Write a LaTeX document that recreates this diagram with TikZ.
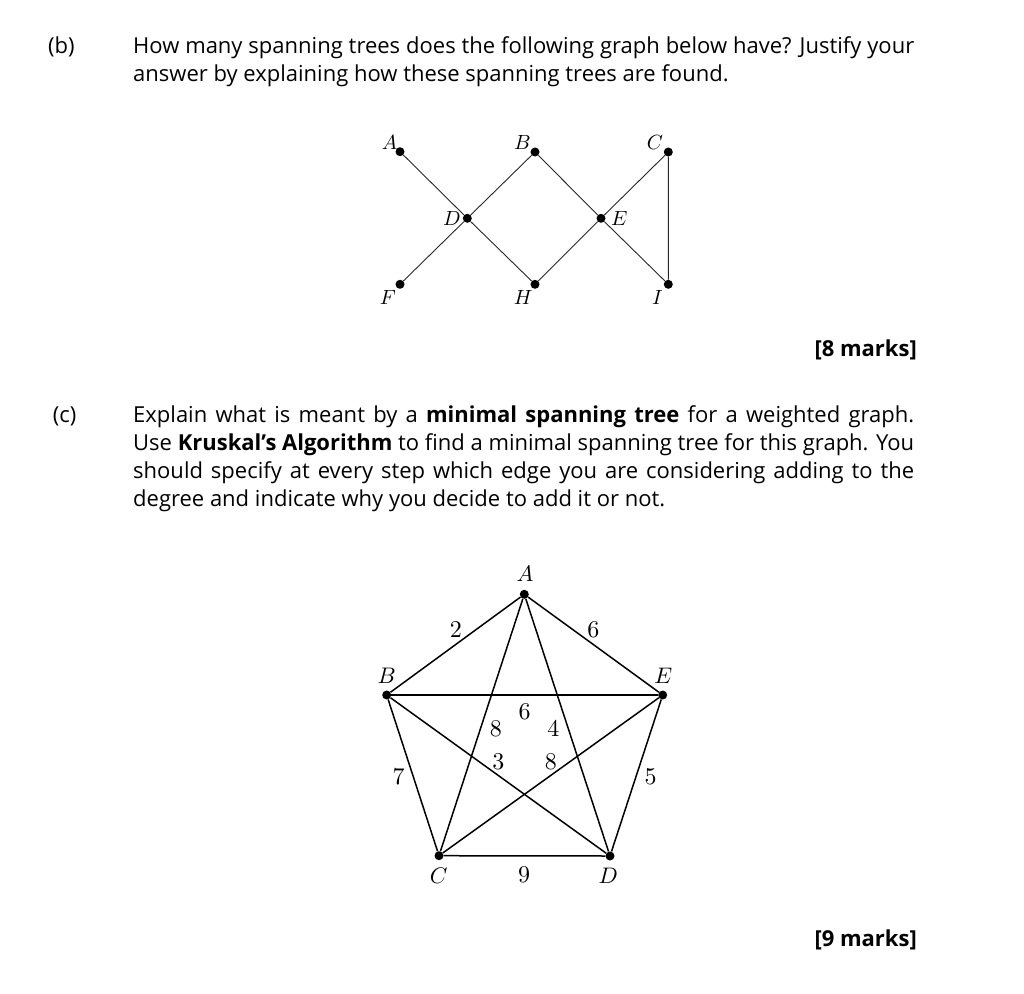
\documentclass[tikz,border=0pt]{standalone}
\usepackage{fontspec}
\usepackage{graphicx}
\setmainfont{Open Sans}
\newcommand{\justline}[1]{\makebox[781pt][s]{#1}}
\newcommand{\gone}[1]{\scalebox{2.05}{\fontsize{10}{12}\selectfont$#1$}}
\newcommand{\gtwo}[1]{\scalebox{2.25}{\fontsize{10}{12}\selectfont$#1$}}
\newcommand{\gwt}[1]{\scalebox{2.4}{\fontsize{10}{12}\selectfont$#1$}}
\begin{document}
\begin{tikzpicture}[x=1pt,y=-1pt,
  dot/.style={circle,fill=black,inner sep=0pt,minimum size=9pt},
  lbl/.style={inner sep=0pt},
  txt/.style={inner sep=0pt,anchor=base west,font=\fontsize{22}{26}\selectfont},
  mk/.style={inner sep=0pt,anchor=base east,font=\fontsize{22}{26}\selectfont\bfseries},
  eone/.style={line width=0.9pt,black!85},
  etwo/.style={line width=1.5pt}]
\useasboundingbox (0,0) rectangle (1024,993);
% ---- (b) text
\node[txt] (bl) at (48,53.3) {(b)};
\node[txt] (b1) at (133,53.3) {\justline{How many spanning trees does the following graph below have? Justify your}};
\node[txt] (b2) at (133,81.7) {answer by explaining how these spanning trees are found.};
\node[mk] (m8) at (917,356.7) {[8 marks]};
% ---- graph 1
\node[dot] (A1) at (400,151.7) {};
\node[dot] (B1) at (535,152) {};
\node[dot] (C1) at (668.3,152) {};
\node[dot] (D1) at (467.3,218.3) {};
\node[dot] (E1) at (601,218.3) {};
\node[dot] (F1) at (400,284.3) {};
\node[dot] (H1) at (535,284.3) {};
\node[dot] (I1) at (668.3,284.3) {};
\draw[eone] (A1) -- (D1) -- (H1) -- (E1) -- (C1) -- (I1) -- (E1) -- (B1) -- (D1) -- (F1);
\node[lbl] (lA1) at (389.5,142.2) {\gone{A}};
\node[lbl] (lB1) at (522.3,142.2) {\gone{B}};
\node[lbl] (lC1) at (655,142.2) {\gone{C}};
\node[lbl] (lD1) at (452,218.8) {\gone{D}};
\node[lbl] (lE1) at (619.2,218.8) {\gone{E}};
\node[lbl] (lF1) at (387.8,297.2) {\gone{F}};
\node[lbl] (lH1) at (523.3,297.2) {\gone{H}};
\node[lbl] (lI1) at (657.5,297.2) {\gone{I}};
% ---- (c) text
\node[txt] (cl) at (52.7,422.3) {(c)};
\node[txt] (c1) at (133,422.3) {\justline{Explain what is meant by a \textbf{minimal spanning tree} for a weighted graph.}};
\node[txt] (c2) at (133,450.3) {\justline{Use \textbf{Kruskal’s Algorithm} to find a minimal spanning tree for this graph. You}};
\node[txt] (c3) at (133,478.3) {\justline{should specify at every step which edge you are considering adding to the}};
\node[txt] (c4) at (133,506.3) {degree and indicate why you decide to add it or not.};
\node[mk] (m9) at (917,946.7) {[9 marks]};
% ---- graph 2
\node[dot] (A2) at (524.3,594.3) {};
\node[dot] (B2) at (386.7,695) {};
\node[dot] (E2) at (662.7,695) {};
\node[dot] (C2) at (439,855.7) {};
\node[dot] (D2) at (610,856) {};
\draw[etwo] (A2) -- (B2);
\draw[etwo] (A2) -- (E2);
\draw[etwo] (A2) -- (C2);
\draw[etwo] (A2) -- (D2);
\draw[etwo] (B2) -- (E2);
\draw[etwo] (B2) -- (C2);
\draw[etwo] (B2) -- (D2);
\draw[etwo] (E2) -- (C2);
\draw[etwo] (E2) -- (D2);
\draw[etwo] (C2) -- (D2);
\node[lbl] (lA2) at (525,574.2) {\gtwo{A}};
\node[lbl] (lB2) at (386.7,675.8) {\gtwo{B}};
\node[lbl] (lE2) at (663.3,675.8) {\gtwo{E}};
\node[lbl] (lC2) at (438.7,875.8) {\gtwo{C}};
\node[lbl] (lD2) at (608.2,875.8) {\gtwo{D}};
\node[lbl] (wAB) at (455.8,630) {\gwt{2}};
\node[lbl] (wAE) at (593.3,630) {\gwt{6}};
\node[lbl] (wBE) at (524.7,712) {\gwt{6}};
\node[lbl] (wAC) at (495.8,728.3) {\gwt{8}};
\node[lbl] (wAD) at (553.3,728.3) {\gwt{4}};
\node[lbl] (wBD) at (498.3,761.3) {\gwt{3}};
\node[lbl] (wCE) at (550.8,761.3) {\gwt{8}};
\node[lbl] (wBC) at (398.7,776.7) {\gwt{7}};
\node[lbl] (wDE) at (650.5,776.7) {\gwt{5}};
\node[lbl] (wCD) at (524.2,875) {\gwt{9}};
\end{tikzpicture}
\end{document}
